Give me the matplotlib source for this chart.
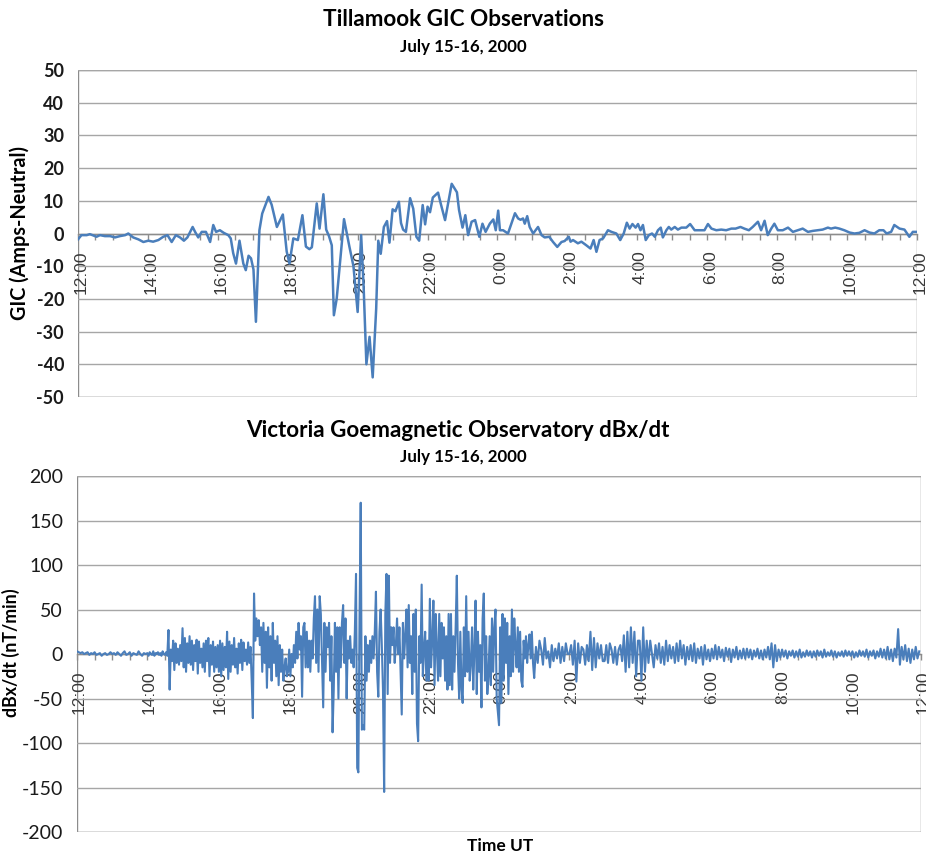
import numpy as np
import matplotlib
matplotlib.use("Agg")
import matplotlib.pyplot as plt
import matplotlib.transforms as mtransforms
from matplotlib.patches import Rectangle

plt.rcParams["axes.unicode_minus"] = False

# ---------------- data ----------------
# Tillamook GIC (hours since 0:00 July 15; 24 = midnight)
gic_time = [12.0, 12.1, 12.25, 12.34, 12.44, 12.53, 12.63, 12.77, 12.92, 13.06, 13.2, 13.35, 13.44, 13.58,
            13.73, 13.87, 14.01, 14.15, 14.3, 14.44, 14.56, 14.68, 14.8, 14.92, 15.03, 15.13, 15.28, 15.35,
            15.44, 15.54, 15.66, 15.78, 15.87, 15.95, 16.06, 16.17, 16.3, 16.37, 16.44, 16.52, 16.62, 16.73,
            16.8, 16.88, 16.95, 17.02, 17.09, 17.19, 17.27, 17.45, 17.54, 17.69, 17.86, 17.97, 18.05, 18.16,
            18.29, 18.42, 18.52, 18.62, 18.69, 18.83, 18.91, 19.02, 19.1, 19.18, 19.26, 19.32, 19.4, 19.61,
            19.76, 19.88, 20.0, 20.1, 20.17, 20.25, 20.34, 20.43, 20.53, 20.59, 20.66, 20.75, 20.84, 20.91,
            21.0, 21.08, 21.18, 21.24, 21.3, 21.38, 21.5, 21.59, 21.68, 21.76, 21.86, 21.93, 22.0, 22.07,
            22.15, 22.3, 22.38, 22.5, 22.69, 22.84, 22.9, 23.0, 23.08, 23.16, 23.26, 23.36, 23.48, 23.57,
            23.66, 23.78, 23.88, 23.95, 24.02, 24.07, 24.16, 24.3, 24.5, 24.59, 24.66, 24.73, 24.78, 24.85,
            24.92, 25.02, 25.16, 25.26, 25.35, 25.48, 25.59, 25.71, 25.83, 25.92, 26.04, 26.09, 26.16, 26.3,
            26.4, 26.54, 26.66, 26.75, 26.83, 26.92, 27.02, 27.16, 27.26, 27.4, 27.51, 27.61, 27.7, 27.78,
            27.86, 27.95, 28.02, 28.09, 28.16, 28.24, 28.33, 28.42, 28.5, 28.59, 28.67, 28.73, 28.83, 28.9,
            28.97, 29.07, 29.16, 29.26, 29.4, 29.51, 29.64, 29.78, 29.92, 30.02, 30.12, 30.26, 30.4, 30.54,
            30.69, 30.81, 30.95, 31.06, 31.19, 31.3, 31.45, 31.54, 31.64, 31.73, 31.83, 31.92, 32.02, 32.16,
            32.31, 32.45, 32.59, 32.73, 32.88, 33.02, 33.16, 33.3, 33.45, 33.54, 33.66, 33.78, 33.92, 34.07,
            34.21, 34.35, 34.5, 34.64, 34.78, 34.92, 35.04, 35.13, 35.26, 35.35, 35.5, 35.64, 35.78, 35.88, 36.0]
gic_values = [-1.8, -0.5, -0.5, -0.2, -0.6, -1.0, -0.5, -0.8, -0.8, -1.2, -0.8, -0.5, 0.0, -1.2,
              -1.8, -2.6, -2.2, -2.5, -2.0, -1.0, -0.5, -2.6, -0.5, -1.2, -2.2, -1.2, 2.0, 0.5,
              -1.2, 0.5, 0.5, -2.6, 2.6, 0.5, 1.0, 0.2, -0.5, -1.5, -6.0, -9.2, -2.2, -9.2,
              -11.2, -6.8, -7.6, -11.0, -27.0, 1.0, 6.1, 11.2, 8.8, 2.0, 5.8, -5.5, -9.2, -1.5,
              -2.0, 5.6, -4.0, -4.8, -4.2, 9.2, 1.5, 12.0, 1.2, -0.8, -3.6, -25.0, -20.0, 4.4,
              -3.8, -10.0, -24.0, -0.5, -16.0, -40.0, -31.6, -44.0, -23.0, -2.2, -6.2, 2.0, 3.8, -2.8,
              7.4, 6.8, 9.7, 3.2, 1.2, 0.5, 10.8, 7.6, -1.0, -2.2, 8.7, 2.8, 8.2, 6.5,
              11.0, 12.5, 9.0, 4.1, 15.2, 12.6, 7.2, 1.8, 5.6, -0.5, 3.6, 4.1, -1.0, 3.0,
              0.5, 3.0, 4.3, 1.0, 7.0, 1.0, 1.0, 0.0, 6.2, 4.6, 4.2, 4.6, 3.0, 5.3,
              2.0, 0.0, 2.0, -0.5, -1.2, -1.0, -2.6, -4.1, -2.6, -2.3, -1.0, -2.5, -2.0, -3.0,
              -2.5, -3.6, -4.6, -2.0, -5.6, -2.0, -1.5, 1.0, 0.5, 0.0, -2.0, 0.0, 3.3, 1.5,
              2.9, 1.8, 2.9, 1.0, 2.6, -2.0, -0.5, 0.0, -1.0, 1.0, 1.8, -1.2, 1.0, 2.0,
              1.2, 2.0, 1.2, 1.8, 1.8, 2.9, 1.0, 1.0, 1.0, 2.9, 1.5, 1.0, 1.2, 1.0,
              1.5, 1.5, 2.0, 1.5, 1.0, 2.0, 3.6, 1.0, 3.9, -0.5, 1.5, 3.0, 1.0, 1.0,
              1.8, 0.5, 1.0, 1.5, 0.5, 0.8, 1.0, 1.2, 1.8, 1.5, 1.8, 1.5, 1.0, 0.3,
              0.0, 0.2, 1.0, 0.3, 0.0, 1.0, 1.0, 0.0, 0.5, 2.6, 1.5, 1.2, -1.0, 0.5, 0.5]

# Victoria dBx/dt, one list per clock hour (values evenly sampled within the hour)
dbdt_h12 = [3, 2, 1, 2, 0, 1, 2, -1, 1, 0, 2, -1, 0, 1, -2, 0, 1, -1, 0, 2]
dbdt_h13 = [0, 1, -1, 2, 0, -2, 1, 3, -1, 0, 2, -2, 1, 0, -1, 3, 0, -2, 1, 0]
dbdt_h14 = [1, -2, 2, 0, -1, 3, -2, 1, 0, 2, -1, 1, -2, 3, 0, -1, 2, -2, 27, -40, 5, -8, 15, -18, 12,
            -10, 6, -12, 10, -8]
dbdt_h15 = [29, -15, 18, -20, 12, -10, 20, -12, 15, -18, 10, -8, 16, -22, 14, -10, 6, -15, 12, -20,
            15, -8, 18, -25, 10, -12, 14, -20, 8, -15]
dbdt_h16 = [10, -20, 15, -25, 12, -18, 8, -15, 25, -28, 14, -20, 10, -12, 18, -15, 6, -22, 12, -10,
            16, -18, 13, -8, 5, -12, 13, -10, 8, -30]
dbdt_h17 = [-72, 68, 15, 40, 20, 38, 10, 30, -20, 35, -10, 25, -38, 30, -15, 20, -30, 35, -10, 15,
            -25, 20, -35, 10, -20, 5, -30, -15, -5, -25]
dbdt_h18 = [-20, 5, -25, 0, -15, 10, -10, 25, -5, 35, 5, 20, -48, 30, 35, -15, 25, -15, 15, -20,
            15, -5, 40, 65, -10, 50, -20, 65, 45, -10]
dbdt_h19 = [-60, 35, -20, 30, 8, 35, -30, 20, -88, -40, 35, -20, 30, -50, 30, -15, 35, 55, -10, 40,
            -50, 15, -5, 20, -10, 5, -15, 25, 90, -128]
dbdt_h20 = [-133, 40, 170, -85, -80, -85, 20, -30, 10, -20, 15, -10, 20, -5, 25, 70, -20, -48, 25, 50,
            10, -40, -155, 45, 90, -45, 88, -10, 30, 10]
dbdt_h21 = [30, -10, 10, 40, 0, 30, -20, -68, 35, -5, 20, 50, -15, 55, -10, 20, -45, 45, -20, 50,
            -78, -98, 20, -10, 78, -25, 5, 25, -30, 15]
dbdt_h22 = [-30, 62, -15, 15, 60, -35, 45, 5, -30, 45, -25, 35, -5, 30, -30, 20, -40, 45, -35, 45,
            -40, 20, -20, 30, 88, -10, -50, 25, -40, -55]
dbdt_h23 = [30, -25, 65, -20, 25, -30, -10, 30, -40, 5, 60, -45, 25, -20, 10, -60, 40, 68, -30, 20,
            -45, -25, 20, -35, 40, -20, 30, 50, -50, -65]
dbdt_h00 = [-80, 30, -55, 45, -30, 40, -10, 35, -45, 20, -25, 50, -20, 40, 10, -15, 30, -20, 25, -30,
            -37, 15, -5, 20, -10, 10, 22, -5, 25, -10]
dbdt_h01 = [-27, 8, -10, 15, 5, -12, 18, -5, 3, -15, 10, -8, 6, -5, 12, -10, 8, -8, 12, 0]
dbdt_h02 = [0, 10, -12, 15, -31, 12, -10, 8, 5, -12, 10, -8, 25, -18, 18, -15, 12, -5, 10, -8]
dbdt_h03 = [-8, 10, -10, 12, 5, -10, 8, -12, 5, 10, -8, 21, -20, 25, -15, 30, -10, 25, -25, 15]
dbdt_h04 = [15, -30, 30, -20, 15, -10, 15, 0, -15, 10, -5, 12, -10, 8, -12, 15, -8, 10, -5, 8]
dbdt_h05 = [-10, 12, -8, 15, -5, 10, -12, 8, -6, 10, -8, 12, -10, 6, -5, 8, -12, 10, -6, 5]
dbdt_h06 = [-8, 6, -5, 10, -6, 8, -4, 5, -8, 7, -3, 6, -9, 5, -4, 8, -6, 4, -5, 6]
dbdt_h07 = [-5, 6, -4, 5, -6, 4, -3, 6, -5, 4, -6, 5, -4, 8, -6, 12, -15, 10, -8, 5]
dbdt_h08 = [-4, 5, -3, 4, -5, 3, -2, 4, -4, 3, -3, 5, -4, 2, -3, 4, -2, 3, -4, 3]
dbdt_h09 = [-3, 4, -2, 3, -4, 5, -3, 2, -2, 4, -3, 3, -4, 2, -2, 3, -3, 4, -2, 3]
dbdt_h10 = [-2, 3, -4, 2, -3, 4, -2, 3, -3, 5, -4, 3, -2, 4, -5, 3, -3, 6, -4, 5]
dbdt_h11 = [-5, 8, -6, 5, -8, 6, -4, 28, -12, 8, -6, 10, -8, 6, -10, 5, -6, 8, -5, 3]

dbdt_blocks = [dbdt_h12, dbdt_h13, dbdt_h14, dbdt_h15, dbdt_h16, dbdt_h17, dbdt_h18, dbdt_h19,
               dbdt_h20, dbdt_h21, dbdt_h22, dbdt_h23, dbdt_h00, dbdt_h01, dbdt_h02, dbdt_h03,
               dbdt_h04, dbdt_h05, dbdt_h06, dbdt_h07, dbdt_h08, dbdt_h09, dbdt_h10, dbdt_h11]
block_start_hours = list(range(12, 36))

tick_hours = [12, 14, 16, 18, 20, 22, 24, 26, 28, 30, 32, 34, 36]
tick_labels = ["12:00", "14:00", "16:00", "18:00", "20:00", "22:00", "0:00",
               "2:00", "4:00", "6:00", "8:00", "10:00", "12:00"]

# ---------------- build series ----------------
dbdt_t = []
dbdt_v = []
for h0, vals in zip(block_start_hours, dbdt_blocks):
    n = len(vals)
    dbdt_t.extend(h0 + np.arange(n) / n)
    dbdt_v.extend(vals)

LINE = "#4A7EBB"
GRID = "#A6A6A6"
TITLE_FONT = ["Lato", "DejaVu Sans"]
TICK_FONT = ["Liberation Sans", "DejaVu Sans"]

fig = plt.figure(figsize=(9.26, 8.58), dpi=100)
fig.patch.set_facecolor("white")

ax1 = fig.add_axes([0.0842, 0.5373, 0.9903 - 0.0842, 0.9184 - 0.5373])
ax2 = fig.add_axes([0.0832, 0.0303, 0.9946 - 0.0832, 0.4452 - 0.0303])


def style(ax, ylim, ystep, ybold, ylabfs, xoff):
    ax.set_xlim(12, 36)
    ax.set_ylim(*ylim)
    ax.set_yticks(np.arange(ylim[0], ylim[1] + 1, ystep))
    ax.yaxis.grid(True, color=GRID, linewidth=1.0)
    ax.set_axisbelow(True)
    for s in ["top", "right", "left"]:
        ax.spines[s].set_visible(False)
    ax.spines["bottom"].set_position(("data", 0))
    ax.spines["bottom"].set_color("#8C8C8C")
    ax.spines["bottom"].set_linewidth(1.0)
    ax.add_patch(Rectangle((0, 0), 1, 1, transform=ax.transAxes, fill=False,
                           edgecolor="#8C8C8C", linewidth=1.0, zorder=0.5))
    ax.set_xticks(tick_hours)
    ax.set_xticks(np.arange(12, 36.01, 0.5), minor=True)
    ax.set_xticklabels(tick_labels, rotation=90, va="top", ha="center",
                       fontfamily=TICK_FONT, fontsize=12.5, color="#383838")
    ax.tick_params(axis="x", which="both", direction="out", length=4, width=1,
                   color="#8C8C8C", pad=8)
    ax.tick_params(axis="y", length=0, pad=10)
    for lab in ax.get_yticklabels():
        lab.set_fontfamily(TITLE_FONT)
        lab.set_fontsize(ylabfs)
        lab.set_fontweight("bold" if ybold else "normal")
        lab.set_color("#1a1a1a")
    off = mtransforms.ScaledTranslation(xoff / 100, 0, fig.dpi_scale_trans)
    for lab in ax.get_xticklabels():
        lab.set_transform(lab.get_transform() + off)


style(ax1, (-50, 50), 10, True, 13, 3)
style(ax2, (-200, 200), 50, False, 14, 2)

ax1.plot(gic_time, gic_values, color=LINE, linewidth=1.8, zorder=3)
ax2.plot(dbdt_t, dbdt_v, color=LINE, linewidth=1.5, zorder=3)

# titles and labels
fig.text(0.501, 0.9767, "Tillamook GIC Observations", ha="center", va="center",
         fontfamily=TITLE_FONT, fontweight="bold", fontsize=16.2)
fig.text(0.500, 0.9452, "July 15-16, 2000", ha="center", va="center",
         fontfamily=TITLE_FONT, fontweight="bold", fontsize=12.2)
fig.text(0.4946, 0.4988, "Victoria Goemagnetic Observatory dBx/dt", ha="center", va="center",
         fontfamily=TITLE_FONT, fontweight="bold", fontsize=16.1)
fig.text(0.500, 0.4674, "July 15-16, 2000", ha="center", va="center",
         fontfamily=TITLE_FONT, fontweight="bold", fontsize=12.2)
fig.text(0.0216, 0.7284, "GIC (Amps-Neutral)", rotation=90, ha="center", va="center",
         fontfamily=TITLE_FONT, fontweight="bold", fontsize=14.2)
fig.text(0.0118, 0.2389, "dBx/dt (nT/min)", rotation=90, ha="center", va="center",
         fontfamily=TITLE_FONT, fontweight="bold", fontsize=12.8)
fig.text(0.540, 0.0140, "Time UT", ha="center", va="center",
         fontfamily=TITLE_FONT, fontweight="bold", fontsize=12.5)

fig.savefig("out.png", dpi=100, facecolor="white")
